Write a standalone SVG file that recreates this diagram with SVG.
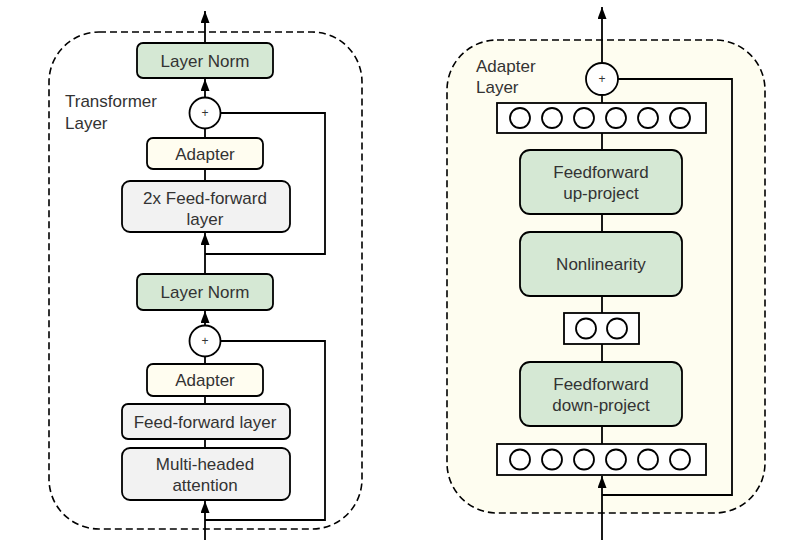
<svg xmlns="http://www.w3.org/2000/svg" width="796" height="540" viewBox="0 0 796 540">
<defs>
<marker id="ah" viewBox="0 0 9 12" refX="4.5" refY="0" markerWidth="9" markerHeight="12" markerUnits="userSpaceOnUse" orient="0">
<path d="M0,12 L4.5,0 L9,12 Z" fill="#000"/>
</marker>
</defs>
<style>
text{font-family:"Liberation Sans",Arial,sans-serif;font-size:17px;fill:#333;}
.lbl{text-anchor:middle;}
.box{stroke:#000;stroke-width:1.8;}
.green{fill:#d5e8d4;}
.yellow{fill:#fffdf0;}
.gray{fill:#f2f2f2;}
.cont{fill:none;stroke:#000;stroke-width:1.6;stroke-dasharray:7 4;}
.wire{fill:none;stroke:#000;stroke-width:1.8;}
.neu{fill:#fff;stroke:#000;stroke-width:1.8;}
.plus{font-size:12px;}
</style>
<rect width="796" height="540" fill="#fff"/>

<g id="transformer-layer">
<rect x="49" y="32" width="313" height="497" rx="50" ry="50" class="cont"/>
<text x="65" y="107">Transformer</text>
<text x="65" y="129">Layer</text>
</g>
<g id="adapter-layer">
<rect x="447" y="40" width="318" height="473" rx="50" ry="50" class="cont" style="fill:#fefdf0"/>
<text x="476" y="72">Adapter</text>
<text x="476" y="93">Layer</text>
</g>

<g id="connectors">
<line x1="205" y1="43" x2="205" y2="11" class="wire" marker-end="url(#ah)"/>
<line x1="205" y1="97" x2="205" y2="79" class="wire" marker-end="url(#ah)"/>
<line x1="205" y1="138" x2="205" y2="129" class="wire"/>
<line x1="205" y1="181" x2="205" y2="169" class="wire"/>
<line x1="205" y1="274" x2="205" y2="233" class="wire" marker-end="url(#ah)"/>
<polyline points="205,254 325,254 325,113 221,113" class="wire"/>
<line x1="205" y1="325" x2="205" y2="311" class="wire" marker-end="url(#ah)"/>
<line x1="205" y1="364" x2="205" y2="357" class="wire"/>
<line x1="205" y1="404" x2="205" y2="396" class="wire"/>
<line x1="205" y1="448" x2="205" y2="439" class="wire"/>
<line x1="205" y1="540" x2="205" y2="501" class="wire" marker-end="url(#ah)"/>
<polyline points="205,520 325,520 325,341 221,341" class="wire"/>
<line x1="602" y1="63" x2="602" y2="7" class="wire" marker-end="url(#ah)"/>
<line x1="602" y1="103" x2="602" y2="95" class="wire"/>
<line x1="602" y1="150" x2="602" y2="133" class="wire"/>
<line x1="602" y1="232" x2="602" y2="214" class="wire"/>
<line x1="602" y1="313" x2="602" y2="296" class="wire"/>
<line x1="602" y1="362" x2="602" y2="344" class="wire"/>
<line x1="602" y1="444" x2="602" y2="426" class="wire"/>
<line x1="602" y1="540" x2="602" y2="476" class="wire" marker-end="url(#ah)"/>
<polyline points="602,495 732,495 732,79 618,79" class="wire"/>
</g>

<g id="ln-top"><rect x="137" y="43" width="136" height="35" rx="6" class="box green"/><text x="205" y="67" class="lbl">Layer Norm</text></g>
<g id="plus-top"><circle cx="205" cy="113" r="15.5" class="neu"/><text x="205" y="117" class="lbl plus">+</text></g>
<g id="adapter-top"><rect x="147" y="138" width="116" height="31" rx="6" class="box yellow"/><text x="205" y="160" class="lbl">Adapter</text></g>
<g id="ff2x"><rect x="122" y="181" width="168" height="51" rx="8" class="box gray"/><text x="205" y="204" class="lbl">2x Feed-forward</text><text x="205" y="225" class="lbl">layer</text></g>
<g id="ln-bottom"><rect x="137" y="274" width="136" height="36" rx="6" class="box green"/><text x="205" y="298" class="lbl">Layer Norm</text></g>
<g id="plus-bottom"><circle cx="205" cy="341" r="15.5" class="neu"/><text x="205" y="345" class="lbl plus">+</text></g>
<g id="adapter-bottom"><rect x="147" y="364" width="116" height="32" rx="6" class="box yellow"/><text x="205" y="386" class="lbl">Adapter</text></g>
<g id="ff"><rect x="122" y="404" width="168" height="35" rx="6" class="box gray"/><text x="205" y="428" class="lbl">Feed-forward layer</text></g>
<g id="mha"><rect x="122" y="448" width="168" height="52" rx="8" class="box gray"/><text x="205" y="470" class="lbl">Multi-headed</text><text x="205" y="491" class="lbl">attention</text></g>

<g id="plus-adapter"><circle cx="602" cy="79" r="16" class="neu"/><text x="602" y="83" class="lbl plus">+</text></g>
<g id="vec-top"><rect x="497" y="103" width="209" height="30" class="neu"/>
<circle cx="520" cy="118" r="10" class="neu"/><circle cx="552" cy="118" r="10" class="neu"/><circle cx="584" cy="118" r="10" class="neu"/><circle cx="616" cy="118" r="10" class="neu"/><circle cx="648" cy="118" r="10" class="neu"/><circle cx="680" cy="118" r="10" class="neu"/></g>
<g id="up-project"><rect x="520" y="150" width="162" height="64" rx="10" class="box green"/><text x="601" y="178" class="lbl">Feedforward</text><text x="601" y="199" class="lbl">up-project</text></g>
<g id="nonlinearity"><rect x="520" y="232" width="162" height="64" rx="10" class="box green"/><text x="601" y="270" class="lbl">Nonlinearity</text></g>
<g id="vec-mid"><rect x="564" y="313" width="75" height="31" class="neu"/>
<circle cx="586" cy="328.5" r="10" class="neu"/><circle cx="617" cy="328.5" r="10" class="neu"/></g>
<g id="down-project"><rect x="520" y="362" width="162" height="64" rx="10" class="box green"/><text x="601" y="390" class="lbl">Feedforward</text><text x="601" y="411" class="lbl">down-project</text></g>
<g id="vec-bottom"><rect x="497" y="444" width="209" height="31" class="neu"/>
<circle cx="520" cy="459.5" r="10" class="neu"/><circle cx="552" cy="459.5" r="10" class="neu"/><circle cx="584" cy="459.5" r="10" class="neu"/><circle cx="616" cy="459.5" r="10" class="neu"/><circle cx="648" cy="459.5" r="10" class="neu"/><circle cx="680" cy="459.5" r="10" class="neu"/></g>
</svg>
